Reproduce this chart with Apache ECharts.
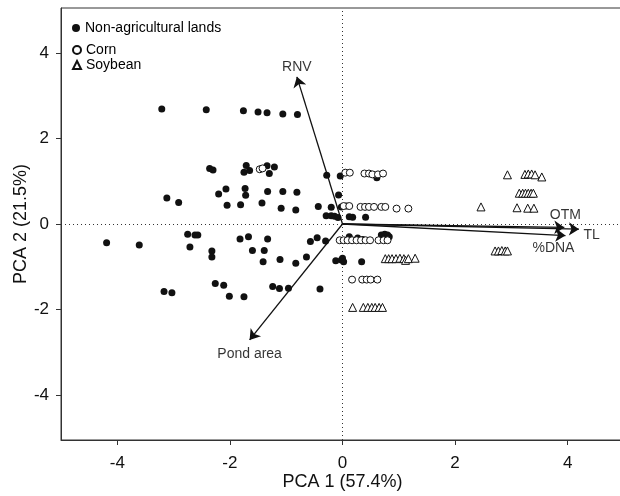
<!DOCTYPE html>
<html>
<head>
<meta charset="utf-8">
<script src="https://cdn.jsdelivr.net/npm/echarts@6/dist/echarts.min.js"></script>
<style>
html, body { margin: 0; padding: 0; background: #fff; }
#chart { width: 620px; height: 496px; }
</style>
</head>
<body>
<div id="chart"></div>
<script>
// PCA scores [PCA1, PCA2]
var nonAgri = [
    [-3.21, 2.69], [-3.12, 0.61], [-2.91, 0.50], [-4.19, -0.44], [-3.61, -0.49],
    [-2.75, -0.24], [-2.62, -0.26], [-2.57, -0.26], [-2.71, -0.54], [-3.17, -1.58],
    [-3.03, -1.61], [-2.42, 2.67], [-1.76, 2.65], [-1.50, 2.62], [-1.34, 2.60],
    [-1.06, 2.57], [-0.80, 2.56], [-2.36, 1.30], [-2.30, 1.26], [-1.71, 1.37],
    [-1.75, 1.21], [-1.65, 1.25], [-1.34, 1.36], [-1.21, 1.33], [-1.30, 1.18],
    [-0.28, 1.14], [-0.04, 1.12], [-2.20, 0.70], [-2.07, 0.82], [-1.73, 0.83],
    [-1.72, 0.67], [-1.33, 0.76], [-1.06, 0.76], [-0.81, 0.74], [-2.05, 0.44],
    [-1.81, 0.45], [-1.43, 0.49], [-1.09, 0.37], [-0.83, 0.33], [-0.43, 0.41],
    [-0.20, 0.39], [-0.02, 0.40], [-0.07, 0.68], [-0.29, 0.19], [-0.20, 0.19],
    [-0.14, 0.18], [-0.08, 0.15], [-1.82, -0.35], [-1.67, -0.30], [-1.33, -0.35],
    [-2.32, -0.63], [-2.32, -0.77], [-1.60, -0.62], [-1.39, -0.62], [-1.41, -0.88],
    [-1.11, -0.83], [-0.83, -0.92], [-0.64, -0.77], [-0.57, -0.41], [-0.45, -0.32],
    [-0.30, -0.40], [-0.12, -0.86], [-0.02, -0.84], [-2.26, -1.39], [-2.11, -1.43],
    [-2.01, -1.69], [-1.75, -1.70], [-1.24, -1.46], [-1.12, -1.51], [-0.96, -1.50],
    [-0.40, -1.52], [0.61, 1.08], [0.12, 0.17], [0.18, 0.16], [0.41, 0.16],
    [0.12, -0.30], [0.27, -0.33], [0.36, -0.36], [0.69, -0.26], [0.75, -0.24],
    [0.80, -0.26], [0.83, -0.30], [0.00, -0.80], [0.02, -0.88], [0.34, -0.88],
    [0.07, 0.42]
];
var corn = [
    [-1.47, 1.28], [-1.42, 1.30], [0.05, 1.20], [0.13, 1.20], [0.39, 1.18],
    [0.47, 1.18], [0.53, 1.16], [0.63, 1.16], [0.72, 1.18], [0.02, 0.42],
    [0.12, 0.42], [0.32, 0.40], [0.40, 0.40], [0.47, 0.40], [0.56, 0.40],
    [0.69, 0.40], [0.76, 0.40], [0.96, 0.36], [1.17, 0.36], [-0.05, -0.38],
    [0.02, -0.38], [0.09, -0.38], [0.17, -0.38], [0.25, -0.38], [0.33, -0.38],
    [0.41, -0.38], [0.49, -0.38], [0.64, -0.38], [0.73, -0.38], [0.80, -0.38],
    [0.17, -1.30], [0.35, -1.30], [0.43, -1.30], [0.50, -1.30], [0.62, -1.30]
];
var soybean = [
    [2.46, 0.40], [2.93, 1.15], [3.24, 1.16], [3.30, 1.17], [3.36, 1.17],
    [3.42, 1.15], [3.54, 1.10], [3.14, 0.72], [3.20, 0.72], [3.25, 0.72],
    [3.30, 0.72], [3.35, 0.72], [3.39, 0.72], [3.10, 0.38], [3.29, 0.37],
    [3.40, 0.37], [2.71, -0.63], [2.77, -0.63], [2.83, -0.62], [2.89, -0.63],
    [2.93, -0.63], [0.76, -0.81], [0.82, -0.81], [0.88, -0.81], [0.95, -0.81],
    [1.02, -0.80], [1.09, -0.81], [1.12, -0.85], [1.17, -0.81], [1.29, -0.80],
    [0.18, -1.95], [0.37, -1.95], [0.45, -1.95], [0.52, -1.95], [0.58, -1.95],
    [0.65, -1.95], [0.71, -1.95]
];

// variable loadings (arrow tips)
var loadNames = ['RNV', 'Pond area', 'OTM', 'TL', '%DNA'];
var loadX = [-0.81, -1.65, 3.94, 4.20, 3.96];
var loadY = [3.44, -2.71, -0.08, -0.12, -0.27];

// tick labels
var xTicks = [-4, -2, 0, 2, 4];
var yTicks = [-4, -2, 0, 2, 4];

var font = "'Liberation Sans', Arial, sans-serif";
var ink = '#111';

// where each loading label sits relative to its arrow tip
var labelPlace = {
    'RNV': { position: 'top', distance: 2 },
    'Pond area': { position: 'bottom', distance: 7 },
    'OTM': { position: 'top', distance: 5, offset: [1, 0] },
    'TL': { position: 'right', distance: 4, offset: [0, 6] },
    '%DNA': { position: 'bottom', distance: 5, offset: [-12, 0] }
};

var arrows = [];
var tips = [];
for (var i = 0; i < loadNames.length; i++) {
    arrows.push({ coords: [[0, 0], [loadX[i], loadY[i]]] });
    var lab = labelPlace[loadNames[i]];
    tips.push({
        name: loadNames[i],
        value: [loadX[i], loadY[i]],
        label: {
            show: true,
            formatter: loadNames[i],
            color: '#000',
            fontSize: 14,
            fontFamily: font,
            position: lab.position,
            distance: lab.distance,
            offset: lab.offset || [0, 0]
        }
    });
}

var myChart = echarts.init(document.getElementById('chart'));

var axisCommon = {
    type: 'value',
    splitLine: { show: false },
    axisLine: { onZero: false, lineStyle: { color: '#333', width: 1 } },
    axisTick: { inside: false, length: 5, lineStyle: { color: '#333' } },
    axisLabel: { color: ink, fontSize: 17, fontFamily: font },
    nameLocation: 'middle',
    nameMoveOverlap: false,
    nameTextStyle: { color: ink, fontSize: 18, fontFamily: font }
};

option = {
    animation: false,
    textStyle: { fontFamily: font },
    grid: {
        left: 61,
        top: 8,
        right: -4,
        bottom: 56,
        show: true,
        borderColor: '#333',
        borderWidth: 1,
        containLabel: false,
        outerBoundsMode: 'none'
    },
    legend: [{
        data: ['Non-agricultural lands'],
        left: 67,
        top: 16,
        orient: 'vertical',
        itemWidth: 8,
        itemHeight: 8,
        itemGap: 2,
        textStyle: { fontSize: 14, color: '#000', fontFamily: font }
    }, {
        data: ['Corn', 'Soybean'],
        left: 67,
        top: 38,
        orient: 'vertical',
        itemWidth: 8,
        itemHeight: 8,
        itemGap: 1,
        textStyle: { fontSize: 14, color: '#000', fontFamily: font }
    }],
    xAxis: Object.assign({}, axisCommon, {
        min: -5,
        max: 5,
        name: 'PCA 1 (57.4%)',
        nameGap: 33,
        axisTick: Object.assign({}, axisCommon.axisTick, { customValues: xTicks }),
        axisLabel: Object.assign({}, axisCommon.axisLabel, { customValues: xTicks, margin: 15 })
    }),
    yAxis: Object.assign({}, axisCommon, {
        min: -5.05,
        max: 5.05,
        name: 'PCA 2 (21.5%)',
        nameGap: 31,
        axisTick: Object.assign({}, axisCommon.axisTick, { customValues: yTicks }),
        axisLabel: Object.assign({}, axisCommon.axisLabel, { customValues: yTicks, margin: 12 })
    }),
    series: [
        {
            name: 'Non-agricultural lands',
            type: 'scatter',
            symbol: 'circle',
            symbolSize: 7,
            itemStyle: { color: ink, opacity: 1 },
            data: nonAgri,
            z: 3,
            markLine: {
                silent: true,
                symbol: 'none',
                label: { show: false },
                lineStyle: { color: '#333', width: 1, type: [1, 3] },
                data: [{ xAxis: 0 }, { yAxis: 0 }],
                z: 1
            }
        },
        {
            name: 'Corn',
            type: 'scatter',
            symbol: 'circle',
            symbolSize: 7,
            itemStyle: { color: '#fff', borderColor: ink, borderWidth: 1, opacity: 1 },
            data: corn,
            z: 3
        },
        {
            name: 'Soybean',
            type: 'scatter',
            symbol: 'triangle',
            symbolSize: 8,
            itemStyle: { color: '#fff', borderColor: ink, borderWidth: 1, opacity: 1 },
            data: soybean,
            z: 3
        },
        {
            name: 'loadings',
            type: 'lines',
            coordinateSystem: 'cartesian2d',
            silent: true,
            symbol: ['none', 'arrow'],
            symbolSize: [0, 10],
            lineStyle: { color: ink, width: 1.3, opacity: 1, curveness: 0 },
            data: arrows,
            z: 4
        },
        {
            name: 'loading labels',
            type: 'scatter',
            silent: true,
            symbol: 'circle',
            symbolSize: 1,
            itemStyle: { color: 'rgba(0,0,0,0)' },
            data: tips,
            z: 5
        }
    ]
};

myChart.setOption(option);
</script>
</body>
</html>
